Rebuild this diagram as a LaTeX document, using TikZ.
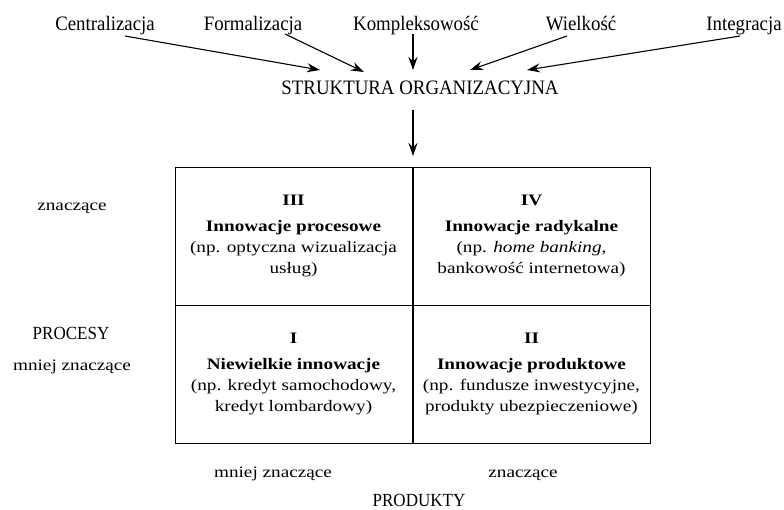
\documentclass[tikz,border=0pt]{standalone}
\usepackage{fontspec}
\setmainfont{Liberation Serif}[FakeStretch=1.2]
\newfontfamily\narrowserif{Liberation Serif}[FakeStretch=0.92]
\usetikzlibrary{arrows.meta}
\begin{document}
\begin{tikzpicture}[x=1pt,y=-1pt,
  toplab/.style={font=\narrowserif\fontsize{20.5}{22}\selectfont, inner sep=0pt, anchor=base},
  sidelab/.style={font=\fontsize{16}{18}\selectfont, inner sep=0pt, anchor=base},
  cell/.style={draw, line width=1pt, minimum width=237pt, minimum height=138pt, align=center,
     font=\fontsize{16}{21}\selectfont, inner sep=0pt},
  arr/.style={line width=1.1pt, -{Stealth[length=13pt,width=9pt]}}]
\useasboundingbox (0,0) rectangle (784,509);
% top labels
\node[toplab] (cent) at (105,30) {Centralizacja};
\node[toplab] (form) at (253,30) {Formalizacja};
\node[toplab] (komp) at (416,30) {Kompleksowość};
\node[toplab] (wiel) at (581,30) {Wielkość};
\node[toplab] (integ) at (744,30) {Integracja};
\node[toplab] (struk) at (420,94) {STRUKTURA ORGANIZACYJNA};
% arrow ends
\coordinate (s1) at (125,36); \coordinate (e1) at (320,70);
\coordinate (s2) at (285,34); \coordinate (e2) at (364,72);
\coordinate (s3) at (413,34); \coordinate (e3) at (413,70);
\coordinate (s4) at (567,36); \coordinate (e4) at (470,70);
\coordinate (s5) at (740,36); \coordinate (e5) at (527,70);
\coordinate (s6) at (413,110); \coordinate (e6) at (413,156);
\draw[arr] (s1) -- (e1);
\draw[arr] (s2) -- (e2);
\draw[arr] (s3) -- (e3);
\draw[arr] (s4) -- (e4);
\draw[arr] (s5) -- (e5);
\draw[arr] (s6) -- (e6);
% grid cells
\node[cell] (c3) at (293.5,236) {\textbf{III}\\[5pt]\textbf{Innowacje procesowe}\\(np. optyczna wizualizacja\\usług)};
\node[cell] (c4) at (531.5,236) {\textbf{IV}\\[5pt]\textbf{Innowacje radykalne}\\(np. \textit{home banking},\\bankowość internetowa)};
\node[cell] (c1) at (293.5,374) {\textbf{I}\\[5pt]\textbf{Niewielkie innowacje}\\(np. kredyt samochodowy,\\kredyt lombardowy)};
\node[cell] (c2) at (531.5,374) {\textbf{II}\\[5pt]\textbf{Innowacje produktowe}\\(np. fundusze inwestycyjne,\\produkty ubezpieczeniowe)};
% side labels
\node[sidelab] (pz) at (72,210) {znaczące};
\node[toplab, font=\narrowserif\fontsize{18.5}{20}\selectfont] (proc) at (71,339) {PROCESY};
\node[sidelab] (pm) at (72,370) {mniej znaczące};
\node[sidelab] (bm) at (273,477) {mniej znaczące};
\node[sidelab] (bz) at (523,477) {znaczące};
\node[toplab, font=\narrowserif\fontsize{18.5}{20}\selectfont] (prod) at (419,506) {PRODUKTY};
\end{tikzpicture}
\end{document}
